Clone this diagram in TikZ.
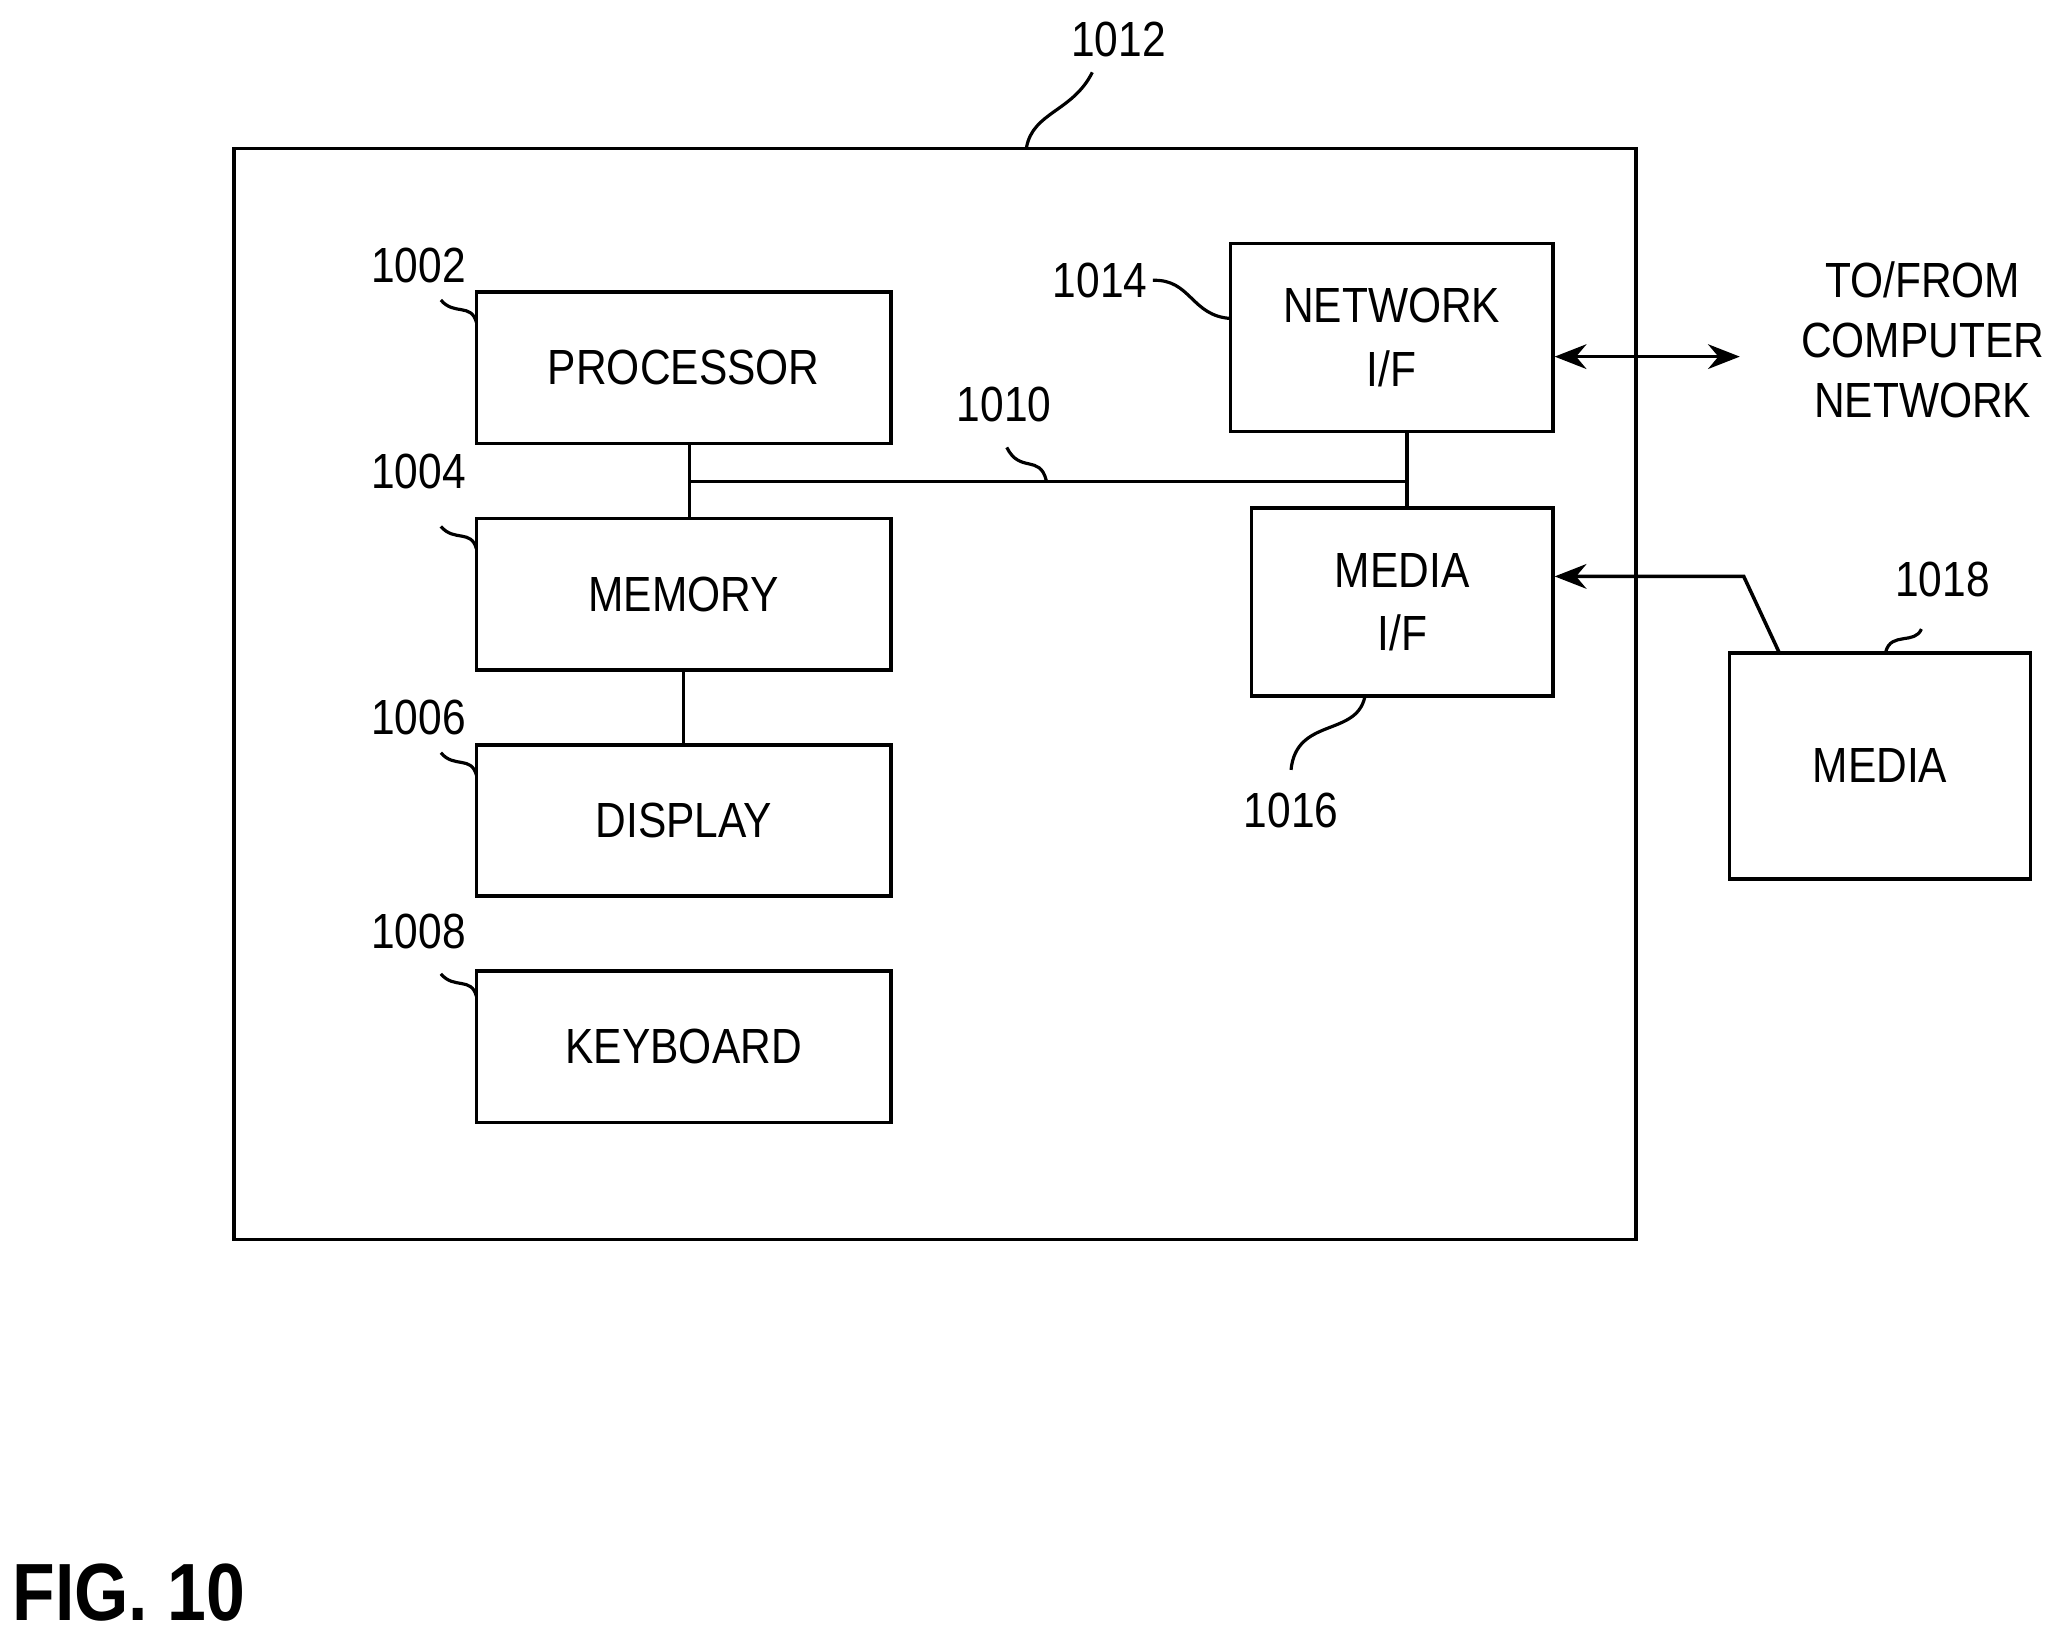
\documentclass[tikz,border=0pt]{standalone}
\usepackage{fontspec}
\setmainfont{Liberation Sans}[FakeStretch=0.86]
\usepackage{tikz}
\usetikzlibrary{arrows.meta}
\tikzstyle{block} = [rectangle, draw, line width=1pt, text centered, inner sep=0pt, font=\fontsize{14}{17}\selectfont, align=center]
\tikzstyle{refnum} = [font=\fontsize{14}{17}\selectfont, inner sep=1pt]
\tikzstyle{leader} = [draw, line width=0.9pt]
\tikzstyle{bus} = [draw, line width=1pt]
\tikzstyle{connector} = [draw, line width=1pt, -{Stealth[length=9pt,width=7pt]}]

\begin{document}
\begin{tikzpicture}[x=0.01310cm, y=-0.01310cm]
\useasboundingbox (0,0) rectangle (1560,1243);

\node[block, minimum width=1065*0.0131cm, minimum height=829*0.0131cm] at (710.5,527.5) (device) {};

\node[block, minimum width=315*0.0131cm, minimum height=115*0.0131cm] at (519.5,279.5) (processor) {PROCESSOR};
\node[block, minimum width=315*0.0131cm, minimum height=115*0.0131cm] at (519.5,451.5) (memory) {MEMORY};
\node[block, minimum width=315*0.0131cm, minimum height=115*0.0131cm] at (519.5,623.5) (display) {DISPLAY};
\node[block, minimum width=315*0.0131cm, minimum height=115*0.0131cm] at (519.5,795.5) (keyboard) {KEYBOARD};

\node[block, minimum width=245*0.0131cm, minimum height=143*0.0131cm] at (1057.5,256.5) (networkIF) {NETWORK\\[1pt]I/F};
\node[block, minimum width=229*0.0131cm, minimum height=143*0.0131cm] at (1065.5,457.5) (mediaIF) {MEDIA\\[1pt]I/F};
\node[block, minimum width=229*0.0131cm, minimum height=172*0.0131cm] at (1428.5,582) (media) {MEDIA};

\node[refnum, align=center] at (1461,258) (network) {TO/FROM\\COMPUTER\\NETWORK};
\coordinate (networkEnd) at (1322,271);
\coordinate (mediaBend) at (1325,438);
\coordinate (busLeft) at (524,366);
\coordinate (busRight) at (1069,366);

\node[refnum] at (850,30) (n1012) {1012};
\node[refnum] at (318,202) (n1002) {1002};
\node[refnum] at (318,358) (n1004) {1004};
\node[refnum] at (318,545) (n1006) {1006};
\node[refnum] at (318,708) (n1008) {1008};
\node[refnum] at (763,307) (n1010) {1010};
\node[refnum] at (836,213) (n1014) {1014};
\node[refnum] at (981,616) (n1016) {1016};
\node[refnum] at (1476,440) (n1018) {1018};
\node[font=\bfseries\fontsize{23}{27}\selectfont] at (98,1210) (fig) {FIG. 10};

% bus
\path [bus] (524,337) -- (524,394);
\path [bus] (busLeft) -- (busRight);
\path [bus] (1069,328) -- (1069,386);
\path [bus] (memory.south) -- (display.north);

% external links
\path [connector, {Stealth[length=9pt,width=7pt]}-{Stealth[length=9pt,width=7pt]}] (networkIF.east |- networkEnd) -- (networkEnd);
\path [connector] (1352,496) -- (mediaBend) -- (mediaIF.east |- mediaBend);

% leaders
\path [leader] (780,112) .. controls (785,85) and (815,85) .. (830,55);
\path [leader] (335,228) .. controls (345,240) and (358,230) .. (362,245);
\path [leader] (335,400) .. controls (345,412) and (358,402) .. (362,417);
\path [leader] (335,572) .. controls (345,584) and (358,574) .. (362,589);
\path [leader] (335,740) .. controls (345,752) and (358,742) .. (362,757);
\path [leader] (765,340) .. controls (775,360) and (790,345) .. (795,365);
\path [leader] (876,213) .. controls (905,212) and (905,240) .. (935,242);
\path [leader] (981,585) .. controls (985,545) and (1030,560) .. (1037,530);
\path [leader] (1433,495) .. controls (1437,480) and (1455,490) .. (1460,478);

\end{tikzpicture}
\end{document}
